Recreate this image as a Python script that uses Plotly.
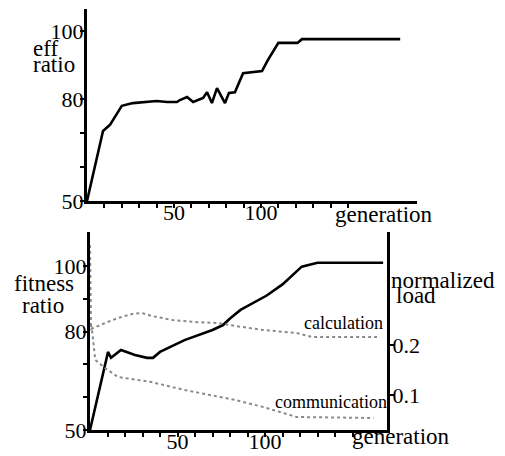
import plotly.graph_objects as go

# ---------------- data ----------------
# top panel: efficiency ratio vs generation
gen_eff = [0, 9.2, 13.2, 20, 26.4, 40, 46, 51.7, 53.4, 57.5, 61, 66.7, 69, 71.8, 74.7,
           79.3, 81.6, 85, 89.7, 100.6, 104, 110, 121, 123.5, 180]
eff_ratio = [50, 70.6, 72.4, 78, 78.8, 79.4, 79.1, 79.1, 79.7, 80.6, 79.1, 80.3, 82, 78.8, 83.2,
             78.8, 81.8, 82, 87.6, 88.2, 91.5, 96.5, 96.5, 97.6, 97.6]

# bottom panel: fitness ratio vs generation
gen_fit = [0, 10.3, 12, 17.7, 25.7, 32.6, 36, 40, 54, 70, 76, 80, 86, 101, 110, 121, 130, 167.5]
fitness_ratio = [50, 73.8, 72, 74.4, 72.9, 72, 72, 73.8, 77.4, 80.5, 82, 84, 86.6, 91, 94.4, 99.8, 101, 101]

# bottom panel: normalized load (right axis)
gen_calc = [0, 0.6, 8.6, 16, 24, 29.7, 35.4, 47, 60, 73, 83, 99, 118, 127, 164]
calc_load = [0.40, 0.232, 0.244, 0.254, 0.262, 0.264, 0.258, 0.25, 0.246, 0.244, 0.238, 0.23, 0.224, 0.216, 0.216]

gen_comm = [0, 1, 3, 8.6, 16, 35, 54, 73, 83, 99, 108.6, 118, 162]
comm_load = [0.24, 0.236, 0.17, 0.154, 0.136, 0.126, 0.11, 0.096, 0.09, 0.076, 0.066, 0.056, 0.054]

x_tickvals = [10, 20, 30, 40, 50, 60, 70, 80, 90, 100, 110, 120, 130, 140, 150]
x_ticktext = ["", "", "", "", "50", "", "", "", "", "100", "", "", "", "", ""]
y_top_tickvals = [50, 60, 70, 80, 100]
y_top_ticktext = ["50", "", "", "80", "100"]
y_bot_tickvals = [50, 60, 70, 80, 90, 100]
y_bot_ticktext = ["50", "", "", "80", "", "100"]
load_tickvals = [0.1, 0.2]
load_ticktext = ["0.1", "0.2"]

# ---------------- figure ----------------
# the page body has an 8px margin, so the figure starts at (8, 8) in the window
OFF = 8
W, H = 505 - OFF, 456 - OFF
FONT = "Liberation Serif, Times New Roman, DejaVu Serif, serif"


def px(x):
    return min(max((x - OFF) / W, 0), 1)


def py(y):
    return min(max(1 - (y - OFF) / H, 0), 1)


fig = go.Figure()
fig.add_trace(go.Scatter(x=gen_eff, y=eff_ratio, mode="lines", xaxis="x", yaxis="y",
                         line=dict(color="black", width=2.6), showlegend=False))
fig.add_trace(go.Scatter(x=gen_calc, y=calc_load, mode="lines", xaxis="x2", yaxis="y3",
                         line=dict(color="#8a8a8a", width=2, dash="dot"), showlegend=False))
fig.add_trace(go.Scatter(x=gen_comm, y=comm_load, mode="lines", xaxis="x2", yaxis="y3",
                         line=dict(color="#8a8a8a", width=2, dash="dot"), showlegend=False))
fig.add_trace(go.Scatter(x=gen_fit, y=fitness_ratio, mode="lines", xaxis="x2", yaxis="y2",
                         line=dict(color="black", width=2.6), showlegend=False))

axis_common = dict(showgrid=False, zeroline=False, showline=True, linecolor="black",
                   linewidth=3, ticks="outside", ticklen=4, tickwidth=1.5, tickcolor="black",
                   automargin=False,
                   tickfont=dict(family=FONT, size=22, color="black"))
xstand = dict(ticklabelstandoff=-14)
ystand = dict(ticklabelstandoff=-8)

fig.update_layout(
    template="none",
    width=W, height=H,
    margin=dict(l=0, r=0, t=0, b=0, pad=0),
    paper_bgcolor="white", plot_bgcolor="white",
    font=dict(family=FONT, size=22, color="black"),
    xaxis=dict(domain=[px(87), px(417)], range=[0, 330 / 1.74], anchor="y",
               tickvals=x_tickvals, ticktext=x_ticktext, **xstand, **axis_common),
    yaxis=dict(domain=[py(201), py(9)], range=[50, 80 + 90 / 3.4], anchor="x",
               tickvals=y_top_tickvals, ticktext=y_top_ticktext, **ystand, **axis_common),
    xaxis2=dict(domain=[px(90), px(387)], range=[0, 297 / 1.75], anchor="y2",
                tickvals=x_tickvals, ticktext=x_ticktext, **xstand, **axis_common),
    yaxis2=dict(domain=[py(430), py(232)], range=[50, 50 + 198 / 3.28], anchor="x2",
                tickvals=y_bot_tickvals, ticktext=y_bot_ticktext, **ystand, **axis_common),
    yaxis3=dict(domain=[py(430), py(232)], range=[0.2 - 85 / 500, 0.2 + 113 / 500],
                anchor="x2", overlaying="y2", side="right",
                tickvals=load_tickvals, ticktext=load_ticktext, ticklabelstandoff=-6,
                **axis_common),
)


def label(text, x, y, xanchor="center", size=23):
    fig.add_annotation(text=text, x=px(x), y=py(y), xref="paper", yref="paper",
                       xanchor=xanchor, yanchor="middle", showarrow=False,
                       font=dict(family=FONT, size=size, color="black"))


label("eff", 31, 49, "left")
label("ratio", 31, 65, "left")
label("generation", 384, 214)
label("fitness", 44, 283)
label("ratio", 43, 305)
label("normalized", 389, 280, "left")
label("load", 394, 295, "left")
label("generation", 401, 436)
label("calculation", 343, 323, size=18)
label("communication", 331, 402, size=18)

fig.write_html("out.html")
